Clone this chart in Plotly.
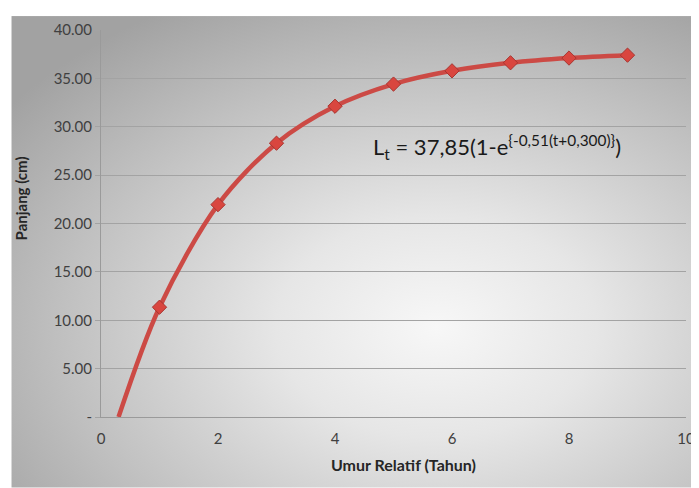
import base64
import plotly.graph_objects as go

# Data
umur = [0.3, 1, 2, 3, 4, 5, 6, 7, 8, 9]
panjang = [0.0, 11.35, 21.95, 28.30, 32.12, 34.41, 35.78, 36.61, 37.10, 37.40]
x_ticks = [0, 2, 4, 6, 8, 10]
y_ticks = [0, 5, 10, 15, 20, 25, 30, 35, 40]
y_tick_labels = ["-", "5.00", "10.00", "15.00", "20.00", "25.00", "30.00", "35.00", "40.00"]

# Radial gradient background (Excel-like chart area)
svg = (
    '<svg xmlns="http://www.w3.org/2000/svg" width="688" height="474" viewBox="0 0 688 474" preserveAspectRatio="none">'
    '<defs><radialGradient id="g" cx="0.62" cy="0.66" r="0.78" fx="0.62" fy="0.66">'
    '<stop offset="0" stop-color="#f7f7f7"/>'
    '<stop offset="0.3" stop-color="#e6e6e6"/>'
    '<stop offset="0.7" stop-color="#c0c0c0"/>'
    '<stop offset="1" stop-color="#a2a2a2"/>'
    '</radialGradient></defs>'
    '<rect x="0" y="0" width="688" height="474" fill="url(#g)"/></svg>'
)
src = "data:image/svg+xml;base64," + base64.b64encode(svg.encode()).decode()

OFF = 8  # page body margin
SW, SH = 699, 488
W, H = SW, SH

def fx(px):  # screen x -> figure x
    return px - OFF

def fy(py):
    return py - OFF

L, T = fx(101), fy(28)
R = W - fx(688)
B = H - fy(417)
pw, ph = W - L - R, H - T - B

def px_paper(sx):
    return (fx(sx) - L) / pw

def py_paper(sy):
    return (H - B - fy(sy)) / ph

fig = go.Figure()
fig.add_trace(go.Scatter(
    x=umur, y=panjang, mode="lines",
    line=dict(color="#cc4a45", width=4.5, shape="spline", smoothing=0.9),
    hoverinfo="skip", showlegend=False,
))
fig.add_trace(go.Scatter(
    x=umur[1:], y=panjang[1:], mode="markers",
    marker=dict(symbol="diamond", size=11, color="#d9463f",
                line=dict(color="#a83530", width=1)),
    showlegend=False,
))

fig.add_annotation(
    x=4.61, y=27.9, xref="x", yref="y", xanchor="left", yanchor="middle",
    text="L<sub>t</sub> = 37,85(1-e<sup>{-0,51(t+0,300)}</sup>)",
    showarrow=False, font=dict(family="Lato, Open Sans, sans-serif", size=22, color="#1a1a1a"),
)
# axis titles
fig.add_annotation(
    x=px_paper(405), y=py_paper(465), xref="paper", yref="paper",
    xanchor="center", yanchor="middle", showarrow=False,
    text="<b>Umur Relatif (Tahun)</b>",
    font=dict(family="Lato, Open Sans, sans-serif", size=16, color="#262626"),
)
fig.add_annotation(
    x=px_paper(21), y=py_paper(197), xref="paper", yref="paper",
    xanchor="center", yanchor="middle", showarrow=False, textangle=-90,
    text="<b>Panjang (cm)</b>",
    font=dict(family="Lato, Open Sans, sans-serif", size=15, color="#262626"),
)

fig.add_layout_image(dict(
    source=src, xref="paper", yref="paper",
    x=px_paper(11), y=py_paper(14),
    sizex=(SW - 11) / pw, sizey=(SH - 14) / ph,
    xanchor="left", yanchor="top", sizing="stretch", layer="below",
))

fig.update_layout(
    width=W, height=H,
    margin=dict(l=L, r=R, t=T, b=B),
    paper_bgcolor="white", plot_bgcolor="rgba(0,0,0,0)",
    font=dict(family="Lato, Open Sans, sans-serif", size=15, color="#404040"),
    xaxis=dict(
        range=[0, 10], tickvals=x_ticks, showgrid=False, zeroline=False,
        showline=True, linecolor="#9a9a9a", linewidth=1,
        ticks="", ticklabelstandoff=8,
    ),
    yaxis=dict(
        range=[0, 40], tickvals=y_ticks, ticktext=y_tick_labels,
        showgrid=True, gridcolor="#a3a3a3", gridwidth=1, zeroline=False,
        showline=True, linecolor="#9a9a9a", linewidth=1,
        ticks="outside", ticklen=5, tickcolor="#a3a3a3",
    ),
)

fig.write_html("out.html")
